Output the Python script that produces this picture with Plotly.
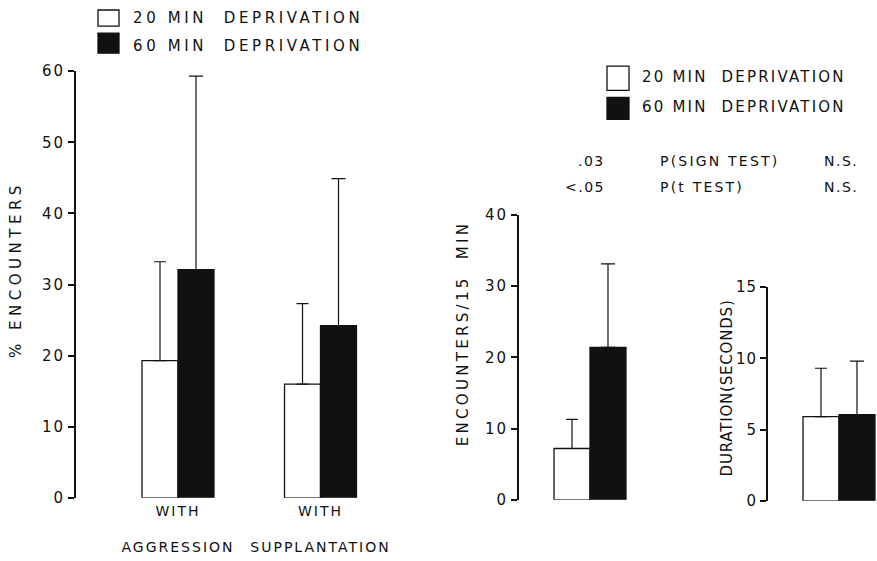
import plotly.graph_objects as go

# ---------------- data ----------------
series_names = ["20 MIN DEPRIVATION", "60 MIN DEPRIVATION"]

pct_categories = ["AGGRESSION", "SUPPLANTATION"]
pct_ticktext = ["WITH<br><br>AGGRESSION", "WITH<br><br>SUPPLANTATION"]
pct_20 = [19.3, 16.0]
pct_20_err = [13.9, 11.3]
pct_60 = [32.1, 24.2]
pct_60_err = [27.2, 20.7]

enc_category = ["ENCOUNTERS"]
enc_20 = [7.2]
enc_20_err = [4.1]
enc_60 = [21.4]
enc_60_err = [11.7]

dur_category = ["DURATION"]
dur_20 = [5.9]
dur_20_err = [3.4]
dur_60 = [6.05]
dur_60_err = [3.75]

pct_ticks = [0, 10, 20, 30, 40, 50, 60]
enc_ticks = [0, 10, 20, 30, 40]
dur_ticks = [0, 5, 10, 15]

stats_left = [".03", "&lt;.05"]
stats_mid = ["P(SIGN TEST)", "P(t TEST)"]
stats_right = ["N.S.", "N.S."]

# ---------------- style ----------------
W, H = 877, 561
FONT = "DejaVu Sans"
INK = "#111111"
# the photographed page shows the figure between these screen rows
VIEW_TOP, VIEW_SPAN = 10, 541


def px(x):
    return x / W


def py(y):
    return 1 - (y - VIEW_TOP) / VIEW_SPAN


def spaced(t, s=2):
    return f"<span style='letter-spacing:{s}px'>{t}</span>"


fig = go.Figure()


def add_pair(xs, v20, e20, v60, e60, xa, ya):
    fig.add_trace(go.Bar(
        x=xs, y=v20, name=series_names[0], xaxis=xa, yaxis=ya,
        marker=dict(color="white", line=dict(color=INK, width=1.3)),
        error_y=dict(type="data", symmetric=False, array=e20,
                     arrayminus=[0] * len(e20), color=INK,
                     thickness=1.2, width=6),
        cliponaxis=False, showlegend=False))
    fig.add_trace(go.Bar(
        x=xs, y=v60, name=series_names[1], xaxis=xa, yaxis=ya,
        marker=dict(color=INK, line=dict(color=INK, width=1.3)),
        error_y=dict(type="data", symmetric=False, array=e60,
                     arrayminus=[0] * len(e60), color=INK,
                     thickness=1.2, width=7),
        cliponaxis=False, showlegend=False))


add_pair(pct_categories, pct_20, pct_20_err, pct_60, pct_60_err, "x", "y")
add_pair(enc_category, enc_20, enc_20_err, enc_60, enc_60_err, "x2", "y2")
add_pair(dur_category, dur_20, dur_20_err, dur_60, dur_60_err, "x3", "y3")

UNIT = 142.5  # px per category


def xrange_for(axis_px, center_px, end_px):
    return [(axis_px - center_px) / UNIT, (end_px - center_px) / UNIT]


yax_common = dict(
    showgrid=False, zeroline=False, showline=True, linecolor=INK,
    linewidth=2, ticks="outside", ticklen=6, tickwidth=2, tickcolor=INK,
    tickfont=dict(family=FONT, size=15, color=INK), fixedrange=True,
)
xax_common = dict(showgrid=False, zeroline=False, showline=False,
                  ticks="", fixedrange=True, type="category")

fig.update_layout(
    width=W, height=H,
    margin=dict(l=0, r=0, t=0, b=0),
    paper_bgcolor="white", plot_bgcolor="white",
    barmode="group", bargap=0.495, bargroupgap=0,
    showlegend=False,
    font=dict(family=FONT, color=INK),
    xaxis=dict(**xax_common, domain=[px(76), px(420)],
               range=xrange_for(76, 178, 420),
               categoryarray=pct_categories, categoryorder="array",
               tickvals=pct_categories,
               ticktext=[spaced(t, 2) for t in pct_ticktext],
               tickfont=dict(family=FONT, size=14, color=INK),
               ticklabelstandoff=3,
               anchor="y"),
    yaxis=dict(**yax_common, domain=[py(497), py(72)], range=[0, 60],
               tickvals=pct_ticks, ticktext=[spaced(t, 2) for t in pct_ticks],
               anchor="x"),
    xaxis2=dict(**xax_common, domain=[px(519), px(680)],
                range=xrange_for(519, 590, 680), showticklabels=False,
                anchor="y2"),
    yaxis2=dict(**yax_common, domain=[py(499), py(215)], range=[0, 40],
                tickvals=enc_ticks, ticktext=[spaced(t, 2) for t in enc_ticks],
                anchor="x2"),
    xaxis3=dict(**xax_common, domain=[px(768), 1.0],
                range=xrange_for(768, 839, 877), showticklabels=False,
                anchor="y3"),
    yaxis3=dict(**yax_common, domain=[py(500), py(287)], range=[0, 15],
                tickvals=dur_ticks, ticktext=[spaced(t, 1) for t in dur_ticks],
                anchor="x3"),
)

shapes = []
annotations = []


def legend_block(x0, x1, boxes_y, text_x, text_ys, size, spacing):
    for i, (y0, y1) in enumerate(boxes_y):
        shapes.append(dict(type="rect", xref="paper", yref="paper",
                           x0=px(x0), x1=px(x1), y0=py(y1), y1=py(y0),
                           fillcolor="white" if i == 0 else INK,
                           line=dict(color=INK, width=1.3)))
        name = series_names[i].replace(" DEP", "\u00a0\u00a0DEP")
        annotations.append(dict(xref="paper", yref="paper", x=px(text_x),
                                y=py(text_ys[i]), xanchor="left",
                                yanchor="middle", showarrow=False,
                                text=spaced(name, spacing),
                                font=dict(family=FONT, size=size, color=INK)))


legend_block(98, 119, [(11, 27), (34, 54)], 131, [19, 47], 15, 3.6)
legend_block(607, 629, [(67, 91), (98, 120)], 640, [78, 108], 15, 2.2)

for i, yy in enumerate([161, 187]):
    annotations.append(dict(xref="paper", yref="paper", x=px(607),
                            y=py(yy), xanchor="right", yanchor="middle",
                            showarrow=False, text=spaced(stats_left[i], 1.5),
                            font=dict(family=FONT, size=14, color=INK)))
    annotations.append(dict(xref="paper", yref="paper", x=px(658),
                            y=py(yy), xanchor="left", yanchor="middle",
                            showarrow=False, text=spaced(stats_mid[i], 2.2),
                            font=dict(family=FONT, size=14, color=INK)))
    annotations.append(dict(xref="paper", yref="paper", x=px(822),
                            y=py(yy), xanchor="left", yanchor="middle",
                            showarrow=False, text=spaced(stats_right[i], 1.5),
                            font=dict(family=FONT, size=14, color=INK)))

titles = [("% ENCOUNTERS", 16, 270, 4.5, 15),
          ("ENCOUNTERS/15 MIN", 463, 334, 3.3, 15),
          ("DURATION(SECONDS)", 727, 388, 0.8, 15)]
for text, x, y, sp, size in titles:
    annotations.append(dict(xref="paper", yref="paper", x=px(x), y=py(y),
                            xanchor="center", yanchor="middle",
                            showarrow=False, textangle=-90,
                            text=spaced(text.replace("/15 ", "/15\u00a0\u00a0"), sp),
                            font=dict(family=FONT, size=size, color=INK)))

fig.update_layout(shapes=shapes, annotations=annotations)

fig.write_html(
    "out.html",
    config={"displayModeBar": False},
    post_script="document.body.style.margin='0';"
                "document.body.style.overflow='hidden';",
)
